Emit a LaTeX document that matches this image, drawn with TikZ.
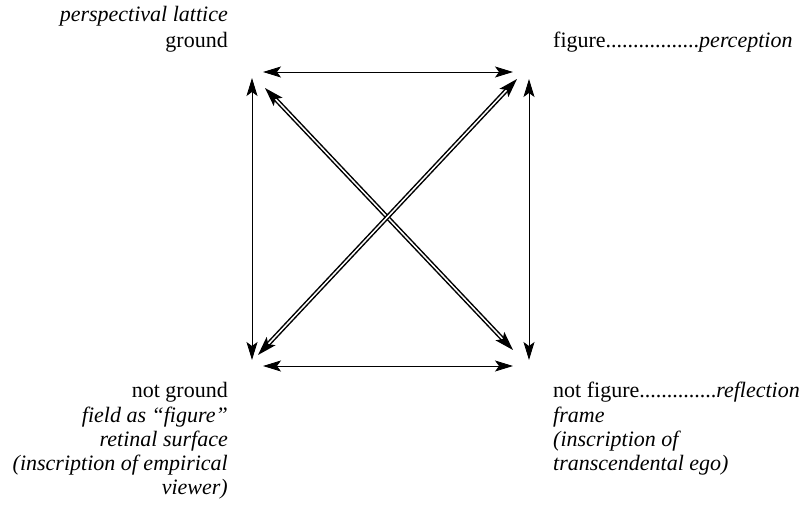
\documentclass[tikz,border=0pt]{standalone}
\usepackage{fontspec}
\setmainfont{Liberation Serif}
\usetikzlibrary{arrows.meta}
\tikzset{
  headtip/.tip={Stealth[length=18pt,width=11pt,inset=4pt]},
  single/.style={line width=0.9pt, headtip-headtip},
  dbl/.style={double, line width=1.5pt, double distance=1.5pt, {Stealth[length=19pt,width=12pt,inset=4pt]}-{Stealth[length=19pt,width=12pt,inset=4pt]}},
  lab/.style={inner sep=0pt, font=\fontsize{22}{24}\selectfont},
  labR/.style={lab, anchor=base east},
  labL/.style={lab, anchor=base west}
}
\begin{document}
\begin{tikzpicture}[x=1pt,y=-1pt]
\useasboundingbox (0,0) rectangle (809,509);
% arrow endpoints
\coordinate (topL) at (263,72);
\coordinate (topR) at (513,72);
\coordinate (botL) at (263,366);
\coordinate (botR) at (513,366);
\coordinate (leftT) at (252,78);
\coordinate (leftB) at (252,360);
\coordinate (rightT) at (529,79);
\coordinate (rightB) at (529,360);
\coordinate (d1a) at (265,88);
\coordinate (d1b) at (513,350);
\coordinate (d2a) at (517,79);
\coordinate (d2b) at (258,355);
% connectors
\draw[single] (topL) -- (topR);
\draw[single] (botL) -- (botR);
\draw[single] (leftT) -- (leftB);
\draw[single] (rightT) -- (rightB);
\draw[dbl] (d1a) -- (d1b);
\draw[dbl] (d2a) -- (d2b);
% labels top left
\node[labR] (tl1) at (228,21) {\itshape perspectival lattice};
\node[labR] (tl2) at (228,47) {ground};
% top right
\node[labL] (tr1) at (553,47) {figure.................\textit{perception}};
% bottom left
\node[labR] (bl1) at (228,397) {not ground};
\node[labR] (bl2) at (228,422) {\itshape field as “figure”};
\node[labR] (bl3) at (228,446) {\itshape retinal surface};
\node[labR] (bl4) at (228,470) {\itshape (inscription of empirical};
\node[labR] (bl5) at (228,494) {\itshape viewer)};
% bottom right
\node[labL] (br1) at (553,397) {not figure..............\textit{reflection}};
\node[labL] (br2) at (553,422) {\itshape frame};
\node[labL] (br3) at (553,446) {\itshape (inscription of};
\node[labL] (br4) at (553,470) {\itshape transcendental ego)};
\end{tikzpicture}
\end{document}
